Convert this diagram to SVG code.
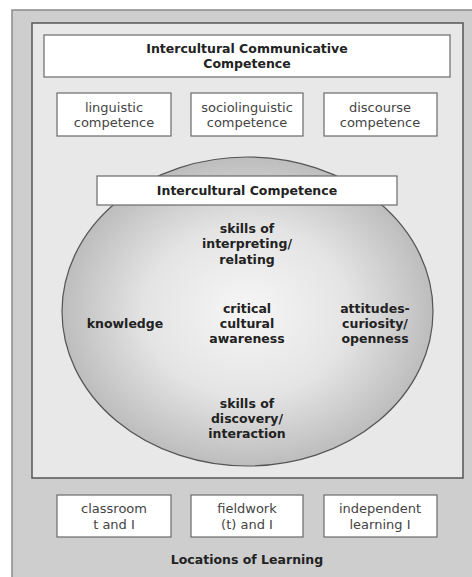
<svg xmlns="http://www.w3.org/2000/svg" width="472" height="577" viewBox="0 0 472 577">
<defs>
<radialGradient id="eg" cx="0.5" cy="0.5" r="0.5">
<stop offset="0" stop-color="#f6f6f6"/>
<stop offset="0.55" stop-color="#e4e4e4"/>
<stop offset="1" stop-color="#bdbdbd"/>
</radialGradient>
<style>
.box{fill:#ffffff;stroke:#6a6a6a;stroke-width:1.2}
.b{font-family:"DejaVu Sans","Liberation Sans",sans-serif;font-weight:bold;font-size:12.5px;fill:#222;text-anchor:middle}
.r{font-family:"DejaVu Sans","Liberation Sans",sans-serif;font-size:13px;fill:#444;text-anchor:middle}
</style>
</defs>
<rect x="0" y="0" width="472" height="577" fill="#ffffff"/>
<g id="outer">
<rect x="12" y="10" width="470" height="580" fill="#cecece" stroke="#8a8a8a" stroke-width="1.5"/>
</g>
<g id="inner">
<rect x="32" y="23" width="431" height="455" fill="#e8e8e8" stroke="#555" stroke-width="1.5"/>
</g>
<g id="icc">
<rect class="box" x="44" y="35" width="406" height="42"/>
<text class="b" x="247" y="53">Intercultural Communicative</text>
<text class="b" x="247" y="68">Competence</text>
</g>
<g id="linguistic">
<rect class="box" x="57" y="93" width="114" height="43"/>
<text class="r" x="114" y="112">linguistic</text>
<text class="r" x="114" y="127">competence</text>
</g>
<g id="sociolinguistic">
<rect class="box" x="191" y="93" width="112" height="43"/>
<text class="r" x="247" y="112">sociolinguistic</text>
<text class="r" x="247" y="127">competence</text>
</g>
<g id="discourse">
<rect class="box" x="324" y="93" width="113" height="43"/>
<text class="r" x="380" y="112">discourse</text>
<text class="r" x="380" y="127">competence</text>
</g>
<g id="ellipse">
<ellipse cx="247.5" cy="311.5" rx="185.5" ry="154.5" fill="url(#eg)" stroke="#555" stroke-width="1.2"/>
</g>
<g id="ic">
<rect class="box" x="97" y="176" width="300" height="29"/>
<text class="b" x="247" y="195">Intercultural Competence</text>
</g>
<g id="skills-interpreting">
<text class="b" x="247" y="233">skills of</text>
<text class="b" x="247" y="248">interpreting/</text>
<text class="b" x="247" y="264">relating</text>
</g>
<g id="knowledge">
<text class="b" x="125" y="328">knowledge</text>
</g>
<g id="critical">
<text class="b" x="247" y="313">critical</text>
<text class="b" x="247" y="328">cultural</text>
<text class="b" x="247" y="343">awareness</text>
</g>
<g id="attitudes">
<text class="b" x="375" y="313">attitudes-</text>
<text class="b" x="375" y="328">curiosity/</text>
<text class="b" x="375" y="343">openness</text>
</g>
<g id="skills-discovery">
<text class="b" x="247" y="408">skills of</text>
<text class="b" x="247" y="423">discovery/</text>
<text class="b" x="247" y="438">interaction</text>
</g>
<g id="classroom">
<rect class="box" x="57" y="495" width="114" height="42"/>
<text class="r" x="114" y="513">classroom</text>
<text class="r" x="114" y="529">t and I</text>
</g>
<g id="fieldwork">
<rect class="box" x="191" y="495" width="112" height="42"/>
<text class="r" x="247" y="513">fieldwork</text>
<text class="r" x="247" y="529">(t) and I</text>
</g>
<g id="independent">
<rect class="box" x="324" y="495" width="113" height="42"/>
<text class="r" x="380" y="513">independent</text>
<text class="r" x="380" y="529">learning I</text>
</g>
<g id="locations">
<text class="b" x="247" y="564">Locations of Learning</text>
</g>
<g id="connectors"></g>
</svg>
